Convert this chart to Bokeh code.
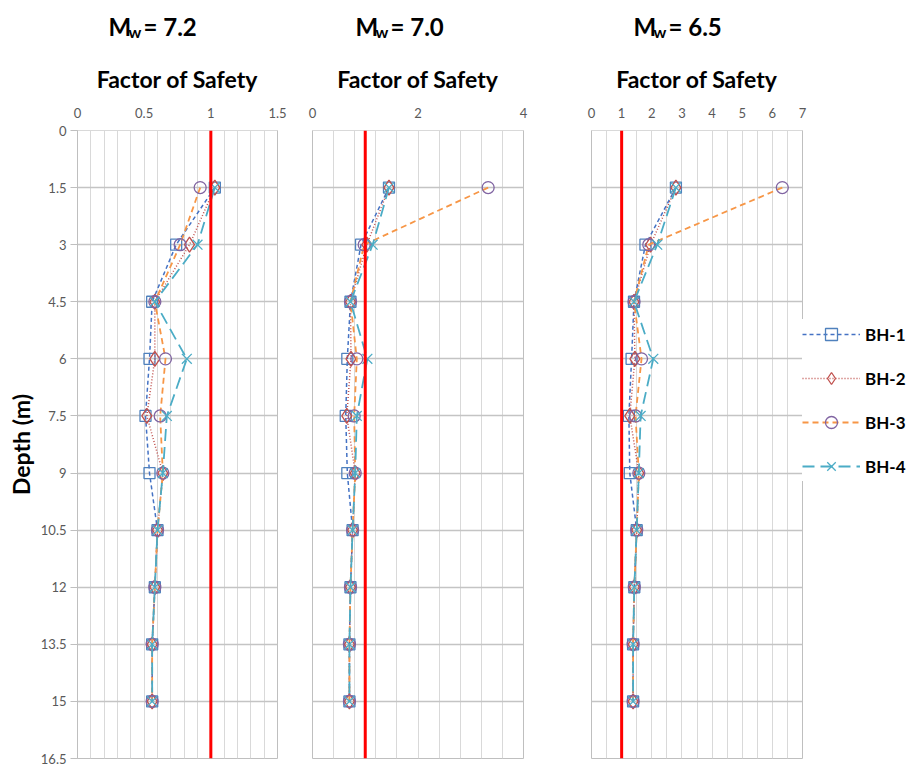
from bokeh.plotting import figure
from bokeh.layouts import row, column
from bokeh.models import (Range1d, FixedTicker, Span, Label, Legend, LegendItem,
                          NumeralTickFormatter)
from bokeh.embed import file_html
from bokeh.resources import INLINE

# ---------------- data ----------------
depth = [1.5, 3, 4.5, 6, 7.5, 9, 10.5, 12, 13.5, 15]
depth_ticks = [0, 1.5, 3, 4.5, 6, 7.5, 9, 10.5, 12, 13.5, 15, 16.5]
series_names = ["BH-1", "BH-2", "BH-3", "BH-4"]
FS_LIMIT = 1.0

mw_titles = ["7.2", "7.0", "6.5"]

# Mw = 7.2
fs72_bh1 = [1.03, 0.74, 0.56, 0.54, 0.51, 0.54, 0.60, 0.58, 0.56, 0.56]
fs72_bh2 = [1.03, 0.84, 0.58, 0.58, 0.52, 0.64, 0.60, 0.58, 0.56, 0.56]
fs72_bh3 = [0.92, 0.77, 0.58, 0.66, 0.62, 0.64, 0.60, 0.58, 0.56, 0.56]
fs72_bh4 = [1.03, 0.90, 0.58, 0.82, 0.67, 0.64, 0.60, 0.58, 0.56, 0.56]

# Mw = 7.0
fs70_bh1 = [1.45, 0.92, 0.72, 0.66, 0.63, 0.66, 0.76, 0.72, 0.70, 0.70]
fs70_bh2 = [1.45, 1.03, 0.72, 0.73, 0.65, 0.81, 0.76, 0.72, 0.70, 0.70]
fs70_bh3 = [3.33, 0.98, 0.72, 0.84, 0.79, 0.81, 0.76, 0.72, 0.70, 0.70]
fs70_bh4 = [1.45, 1.14, 0.72, 1.04, 0.84, 0.81, 0.76, 0.72, 0.70, 0.70]

# Mw = 6.5
fs65_bh1 = [2.80, 1.79, 1.41, 1.33, 1.24, 1.27, 1.50, 1.42, 1.38, 1.38]
fs65_bh2 = [2.80, 1.96, 1.41, 1.44, 1.27, 1.57, 1.50, 1.42, 1.38, 1.38]
fs65_bh3 = [6.33, 1.90, 1.41, 1.66, 1.46, 1.57, 1.50, 1.42, 1.38, 1.38]
fs65_bh4 = [2.80, 2.18, 1.41, 2.05, 1.63, 1.57, 1.50, 1.42, 1.38, 1.38]

x_ticks_72 = [0, 0.5, 1, 1.5]
x_ticks_70 = [0, 2, 4]
x_ticks_65 = [0, 1, 2, 3, 4, 5, 6, 7]
x_step_72, x_step_70, x_step_65 = 0.1, 0.4, 0.5

# ---------------- styles ----------------
FONT = "Lato"
line_styles = [
    dict(color="#4472C4", dash="4 3", width=1.5),
    dict(color="#C0504D", dash="1 2", width=1.5),
    dict(color="#F79646", dash="6 4", width=1.8),
    dict(color="#4BACC6", dash="12 6", width=1.8),
]
marker_styles = [
    dict(marker="square", color="#4F81BD", size=11),
    dict(marker="diamond", color="#C0504D", size=15),
    dict(marker="circle", color="#8064A2", size=12),
    dict(marker="x", color="#4BACC6", size=14),
]

HEADER_H = 50
FRAME_H = 628
TOTAL_W = 912


def make_panel(values, xmax, xticks, xstep, fw, bl, br, show_y):
    p = figure(frame_width=fw, frame_height=FRAME_H,
               min_border_left=bl, min_border_right=br,
               min_border_top=80, min_border_bottom=8,
               x_axis_location="above",
               x_range=Range1d(0, xmax), y_range=Range1d(16.5, 0),
               output_backend="svg", toolbar_location=None)
    p.outline_line_color = "#bfbfbf"
    p.background_fill_color = "white"

    xa = p.xaxis[0]
    xa.ticker = FixedTicker(ticks=xticks)
    xa.formatter = NumeralTickFormatter(format="0.[0]")
    xa.axis_label = "Factor of Safety"
    xa.axis_label_text_font = FONT
    xa.axis_label_text_font_style = "bold"
    xa.axis_label_text_font_size = "23px"
    xa.axis_label_text_color = "black"
    xa.axis_label_standoff = 12
    xa.major_label_text_font = FONT
    xa.major_label_text_font_size = "13px"
    xa.major_label_text_color = "#595959"
    xa.major_label_standoff = 13
    xa.major_tick_line_color = None
    xa.major_tick_out = 0
    xa.major_tick_in = 0
    xa.minor_tick_line_color = None
    xa.axis_line_color = "#d9d9d9"

    n = int(round(xmax / xstep))
    p.xgrid.ticker = FixedTicker(ticks=[round(i * xstep, 4) for i in range(n + 1)])
    p.xgrid.grid_line_color = "#d9d9d9"
    p.xgrid.grid_line_width = 1
    p.ygrid.ticker = FixedTicker(ticks=depth_ticks)
    p.ygrid.grid_line_color = "#c4c4c4"
    p.ygrid.grid_line_width = 1.5

    ya = p.yaxis[0]
    if show_y:
        ya.ticker = FixedTicker(ticks=depth_ticks)
        ya.formatter = NumeralTickFormatter(format="0.[0]")
        ya.axis_label = "Depth (m)"
        ya.axis_label_text_font = FONT
        ya.axis_label_text_font_style = "bold"
        ya.axis_label_text_font_size = "23px"
        ya.axis_label_text_color = "black"
        ya.axis_label_standoff = 3
        ya.major_label_text_font = FONT
        ya.major_label_text_font_size = "13px"
        ya.major_label_text_color = "#595959"
        ya.major_label_standoff = 4
        ya.major_tick_out = 7
        ya.major_tick_in = 0
        ya.major_tick_line_color = "#bfbfbf"
        ya.minor_tick_line_color = None
        ya.axis_line_color = "#bfbfbf"
    else:
        ya.visible = False

    p.add_layout(Span(location=FS_LIMIT, dimension="height",
                      line_color="#FF0000", line_width=3))

    renderers = []
    for vals, ls, ms in zip(values, line_styles, marker_styles):
        lr = p.line(vals, depth, line_color=ls["color"], line_dash=ls["dash"],
                    line_width=ls["width"])
        sr = p.scatter(vals, depth, marker=ms["marker"], size=ms["size"],
                       line_color=ms["color"], line_width=1.3, fill_color=None)
        renderers.append((lr, sr))
    return p, renderers


p1, _ = make_panel([fs72_bh1, fs72_bh2, fs72_bh3, fs72_bh4], 1.5, x_ticks_72, x_step_72,
                   200, 77, 13, True)
p2, _ = make_panel([fs70_bh1, fs70_bh2, fs70_bh3, fs70_bh4], 4, x_ticks_70, x_step_70,
                   211, 22, 37, False)
p3, r3 = make_panel([fs65_bh1, fs65_bh2, fs65_bh3, fs65_bh4], 7, x_ticks_65, x_step_65,
                    211, 31, 110, False)

legend = Legend(items=[LegendItem(label=name, renderers=[lr, sr])
                       for name, (lr, sr) in zip(series_names, r3)],
                location=(0, 277), margin=0,
                label_text_font=FONT, label_text_font_style="bold",
                label_text_font_size="17px", label_text_color="black",
                glyph_width=58, glyph_height=30, label_height=30,
                spacing=14, padding=2, label_standoff=5,
                border_line_color=None, background_fill_color="white",
                background_fill_alpha=1)
p3.add_layout(legend, "right")

# ---------------- header with the magnitude titles ----------------
header = figure(frame_width=TOTAL_W, frame_height=HEADER_H,
                min_border_left=0, min_border_right=0,
                min_border_top=0, min_border_bottom=0,
                x_range=Range1d(0, TOTAL_W), y_range=Range1d(HEADER_H, 0),
                x_axis_type=None, y_axis_type=None,
                output_backend="svg", toolbar_location=None)
header.outline_line_color = None
header.grid.visible = False

title_left = [108, 355, 633]
for x0, mw in zip(title_left, mw_titles):
    header.add_layout(Label(x=x0, y=26, text="M", text_font=FONT,
                            text_font_style="bold", text_font_size="24px",
                            text_baseline="alphabetic", text_align="left",
                            text_color="black"))
    header.add_layout(Label(x=x0 + 20, y=31, text="w", text_font=FONT,
                            text_font_style="bold", text_font_size="16px",
                            text_baseline="alphabetic", text_align="left",
                            text_color="black"))
    header.add_layout(Label(x=x0 + 35, y=26, text="= " + mw, text_font=FONT,
                            text_font_style="bold", text_font_size="24px",
                            text_baseline="alphabetic", text_align="left",
                            text_color="black"))

layout = column(header, row(p1, p2, p3, spacing=0), spacing=0)
open("out.html", "w").write(file_html(layout, INLINE))
